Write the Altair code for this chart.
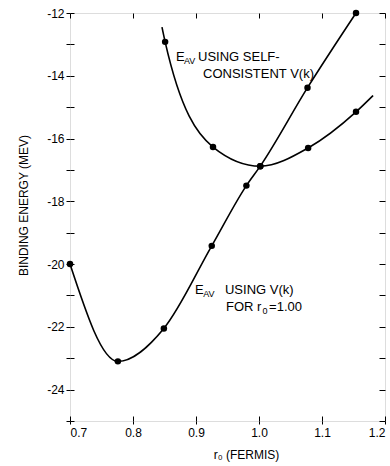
import altair as alt
import pandas as pd

FONT = "Liberation Sans"

# E_AV using V(k) for r0 = 1.00
r0_vk = [0.700, 0.776, 0.849, 0.925, 0.980, 1.002, 1.077, 1.154]
e_vk = [-20.0, -23.1, -22.05, -19.42, -17.5, -16.88, -14.38, -12.0]

# E_AV using self-consistent V(k) (first/last entries are curve ends without a dot)
r0_sc = [0.846, 0.851, 0.927, 1.002, 1.078, 1.154, 1.181]
e_sc = [-12.45, -12.92, -16.27, -16.88, -16.30, -15.15, -14.63]
sc_dot = [False, True, True, True, True, True, False]

x_ticks = [0.7, 0.8, 0.9, 1.0, 1.1, 1.2]
y_ticks = [-25, -24, -23, -22, -21, -20, -19, -18, -17, -16, -15, -14, -13, -12]

W, H = 315, 408

df_vk = pd.DataFrame({"r0": r0_vk, "e": e_vk})
df_sc = pd.DataFrame({"r0": r0_sc, "e": e_sc, "dot": sc_dot})

xs = alt.Scale(domain=[0.7, 1.2], nice=False, zero=False)
ys = alt.Scale(domain=[-25, -12], nice=False, zero=False)

axis_bottom = alt.Axis(
    values=x_ticks, format=".1f", orient="bottom", grid=False, domain=False,
    ticks=True, tickSize=3, tickColor="black", labelFont=FONT, labelFontSize=12,
    labelColor="black", labelPadding=3, title="r₀  (FERMIS)", titleFont=FONT,
    titleFontSize=12, titleFontWeight="normal", titleColor="black",
    titleX=176, titleY=37, titleAlign="center", titleBaseline="alphabetic",
)
axis_left = alt.Axis(
    values=y_ticks, orient="left", grid=False, domain=False, ticks=True,
    tickSize=4, tickColor="black",
    labelExpr="datum.value % 2 == 0 ? '' + datum.value : ''",
    labelFont=FONT, labelFontSize=12, labelColor="black", labelPadding=2,
    title="BINDING ENERGY (MEV)", titleFont=FONT, titleFontSize=12,
    titleFontWeight="normal", titleColor="black", titleX=-43, titleY=192,
    titleAlign="center", titleBaseline="alphabetic", titleAngle=270,
)
# inward ticks: bottom edge (top-oriented axis pushed down)
axis_in_bottom = alt.Axis(
    values=x_ticks, orient="top", offset=-H, grid=False, domain=False,
    labels=False, ticks=True, tickSize=5, tickColor="black", title=None,
)
# inward ticks: right edge (left-oriented axis pushed right)
axis_in_right = alt.Axis(
    values=y_ticks, orient="left", offset=-W, grid=False, domain=False,
    labels=False, ticks=True, tickSize=6, tickColor="black", title=None,
)
# inward ticks: top edge
axis_in_top = alt.Axis(
    values=x_ticks, orient="bottom", offset=-H, grid=False, domain=False,
    labels=False, ticks=True, tickSize=5, tickColor="black", title=None,
)
# inward ticks: left edge
axis_in_left = alt.Axis(
    values=y_ticks, orient="right", offset=-W, grid=False, domain=False,
    labels=False, ticks=True, tickSize=4, tickColor="black", title=None,
)

line_vk = alt.Chart(df_vk).mark_line(
    color="black", strokeWidth=1.6, interpolate="monotone"
).encode(
    x=alt.X("r0:Q", scale=xs, axis=axis_bottom),
    y=alt.Y("e:Q", scale=ys, axis=axis_left),
)

line_sc = alt.Chart(df_sc).mark_line(
    color="black", strokeWidth=1.6, interpolate="monotone"
).encode(
    x=alt.X("r0:Q", scale=xs, axis=axis_in_bottom),
    y=alt.Y("e:Q", scale=ys, axis=axis_in_right),
)

pts_vk = alt.Chart(df_vk).mark_circle(color="black", opacity=1, size=42).encode(
    x=alt.X("r0:Q", scale=xs, axis=axis_in_top),
    y=alt.Y("e:Q", scale=ys, axis=axis_in_left),
)

pts_sc = alt.Chart(df_sc).transform_filter("datum.dot").mark_circle(
    color="black", opacity=1, size=42
).encode(
    x=alt.X("r0:Q", scale=xs, axis=None),
    y=alt.Y("e:Q", scale=ys, axis=None),
)


def label(text, x, y, size):
    return alt.Chart(pd.DataFrame({"t": [text]})).mark_text(
        align="left", baseline="alphabetic", font=FONT, fontSize=size, color="black"
    ).encode(
        x=alt.X(datum=x, type="quantitative", scale=xs, axis=None),
        y=alt.Y(datum=y, type="quantitative", scale=ys, axis=None),
        text="t:N",
    )


BIG, SUB = 13, 9
labels = [
    label("E", 0.8683, -13.53, BIG),
    label("AV", 0.8810, -13.63, SUB),
    label("USING SELF-", 0.9032, -13.53, BIG),
    label("CONSISTENT V(k)", 0.9111, -14.07, BIG),
    label("E", 0.8985, -20.95, BIG),
    label("AV", 0.9115, -21.05, SUB),
    label("USING V(k)", 0.9460, -20.95, BIG),
    label("FOR", 0.9476, -21.50, BIG),
    label("r", 0.9968, -21.50, BIG),
    label("0", 1.0055, -21.60, SUB),
    label("=1.00", 1.0160, -21.50, BIG),
]

chart = alt.layer(line_vk, line_sc, pts_vk, pts_sc, *labels).resolve_axis(
    x="independent", y="independent"
).properties(
    width=W, height=H,
    autosize=alt.AutoSizeParams(type="none"),
    padding={"left": 70, "top": 13, "right": 5, "bottom": 45},
).configure_view(stroke="black", strokeWidth=1.5).configure(background="white")

chart.save("out.html", embed_options={"renderer": "svg", "actions": False})
